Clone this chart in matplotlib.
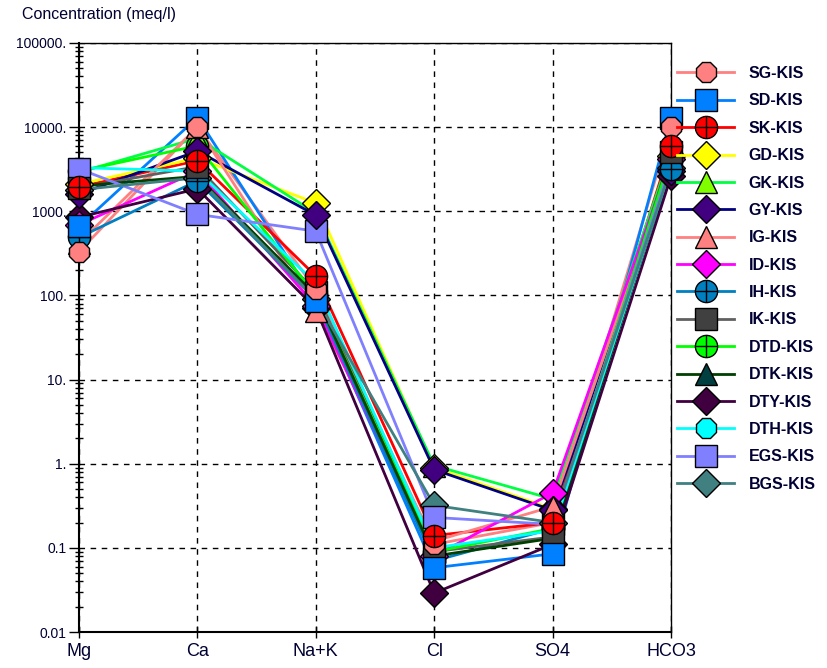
import matplotlib
matplotlib.use("Agg")
import matplotlib.pyplot as plt
from matplotlib.ticker import FixedLocator, FixedFormatter, LogLocator, NullFormatter

plt.rcParams['font.family'] = ['Liberation Sans', 'DejaVu Sans']

# ions on the x axis
ions = ["Mg", "Ca", "Na+K", "Cl", "SO4", "HCO3"]

# concentrations (meq/l)
SG = [330, 10000, 118, 0.11, 0.20, 10000]
SD = [660, 13000, 85, 0.058, 0.085, 13000]
SK = [1950, 4000, 170, 0.14, 0.20, 5900]
GD = [2100, 4300, 1250, 0.90, 0.29, 4500]
GK = [2900, 7400, 950, 0.95, 0.38, 5000]
GY = [1600, 5200, 900, 0.85, 0.28, 3000]
IG = [420, 10000, 65, 0.12, 0.31, 4000]
ID = [690, 3000, 75, 0.08, 0.45, 4200]
IH = [490, 2300, 90, 0.07, 0.17, 3200]
IK = [1900, 3400, 110, 0.09, 0.135, 5000]
DTD = [3000, 6000, 100, 0.09, 0.17, 4500]
DTK = [2000, 2600, 100, 0.08, 0.13, 3500]
DTY = [850, 1850, 70, 0.029, 0.11, 2600]
DTH = [3300, 3000, 140, 0.10, 0.16, 3400]
EGS = [3200, 920, 580, 0.23, 0.19, 3700]
BGS = [1800, 2500, 90, 0.32, 0.20, 3300]

names = ["SG-KIS", "SD-KIS", "SK-KIS", "GD-KIS", "GK-KIS", "GY-KIS", "IG-KIS", "ID-KIS",
         "IH-KIS", "IK-KIS", "DTD-KIS", "DTK-KIS", "DTY-KIS", "DTH-KIS", "EGS-KIS", "BGS-KIS"]
values = [SG, SD, SK, GD, GK, GY, IG, ID, IH, IK, DTD, DTK, DTY, DTH, EGS, BGS]

# stacking of the markers, top first
stack = ["SK-KIS", "SG-KIS", "SD-KIS", "IK-KIS", "IH-KIS", "IG-KIS", "GY-KIS", "EGS-KIS",
         "DTH-KIS", "ID-KIS", "GD-KIS", "GK-KIS", "DTD-KIS", "BGS-KIS", "DTY-KIS", "DTK-KIS"]

# (line colour, marker, face colour, with cross)
styles = [
    ("#FF8080", "8", "#FF8080", False),
    ("#0080FF", "s", "#0080FF", False),
    ("#FF0000", "o", "#FF0000", True),
    ("#FFFF00", "D", "#FFFF00", False),
    ("#00FF40", "^", "#80FF00", False),
    ("#000080", "D", "#400080", False),
    ("#FF8080", "^", "#FF8080", False),
    ("#FF00FF", "D", "#FF00FF", False),
    ("#0080C0", "o", "#0080C0", True),
    ("#606060", "s", "#404040", False),
    ("#00FF00", "o", "#00FF00", True),
    ("#004000", "^", "#004040", False),
    ("#400040", "D", "#400040", False),
    ("#00FFFF", "8", "#00FFFF", False),
    ("#8080FF", "s", "#8080FF", False),
    ("#408080", "D", "#408080", False),
]

fig = plt.figure(figsize=(8.28, 6.68), dpi=100)
ax = fig.add_axes([79 / 828, 1 - 632 / 668, 592 / 828, 589 / 668])

x = list(range(len(ions)))
n = len(values)
handles = []
for name, vals, st in zip(names, values, styles):
    lc, mk, fc, cross = st
    ms = 14 if mk == "D" else 16
    z = 3 + (n - stack.index(name)) * 0.1
    ax.plot(x, vals, color=lc, lw=2, zorder=2, clip_on=False)
    ax.plot(x, vals, marker=mk, markersize=ms, markerfacecolor=fc,
            markeredgecolor="black", markeredgewidth=1,
            linestyle="none", zorder=z, clip_on=False)
    leg_line = plt.Line2D([], [], color=lc, lw=2, marker=mk, markersize=ms,
                          markerfacecolor=fc, markeredgecolor="black", markeredgewidth=1)
    if cross:
        ax.plot(x, vals, linestyle="none", marker="+", markersize=ms,
                markeredgecolor="black", markeredgewidth=1, zorder=z + 0.01, clip_on=False)
        leg_cross = plt.Line2D([], [], linestyle="none", marker="+", markersize=ms,
                               markeredgecolor="black", markeredgewidth=1)
        handles.append((leg_line, leg_cross))
    else:
        handles.append(leg_line)

ax.set_yscale("log")
ax.set_ylim(0.01, 100000)
ax.set_xlim(0, 5)

txt = "#000033"
yt = [0.01, 0.1, 1, 10, 100, 1000, 10000, 100000]
ytl = ["0.01", "0.1", "1.", "10.", "100.", "1000.", "10000.", "100000."]
ax.yaxis.set_major_locator(FixedLocator(yt))
ax.yaxis.set_major_formatter(FixedFormatter(ytl))
ax.yaxis.set_minor_locator(LogLocator(base=10, subs=range(2, 10), numticks=20))
ax.yaxis.set_minor_formatter(NullFormatter())
ax.set_xticks(x)
ax.set_xticklabels(ions, fontsize=13, color=txt,
                   family=['Liberation Sans Narrow', 'Liberation Sans', 'DejaVu Sans'])

ax.tick_params(axis="y", which="major", direction="out", length=7, width=1,
               labelsize=10, pad=2, labelcolor=txt)
ax.tick_params(axis="y", which="minor", direction="inout", length=6, width=1)
ax.tick_params(axis="x", which="major", direction="inout", length=8, width=1, pad=4)

ax.grid(True, which="major", color="black", linestyle=(0, (4, 4)), linewidth=1)
ax.set_axisbelow(True)
for s in ax.spines.values():
    s.set_color("black")
    s.set_linewidth(1)
    s.set_zorder(1.5)
ax.spines["left"].set_linewidth(1.5)
ax.spines["bottom"].set_linewidth(1.5)

fig.text(22 / 828, 1 - 15 / 668, "Concentration (meq/l)", fontsize=11.5,
         va="center", ha="left", color=txt)

leg = ax.legend(handles, names, loc="upper left", bbox_to_anchor=(677 / 828, 1 - 66 / 668),
                bbox_transform=fig.transFigure, frameon=False,
                prop={"weight": "bold", "size": 11.5}, handlelength=3.6, labelspacing=0.775,
                handletextpad=0.9, borderaxespad=0, borderpad=0)
for t in leg.get_texts():
    t.set_color(txt)

fig.savefig("out.png", dpi=100)
